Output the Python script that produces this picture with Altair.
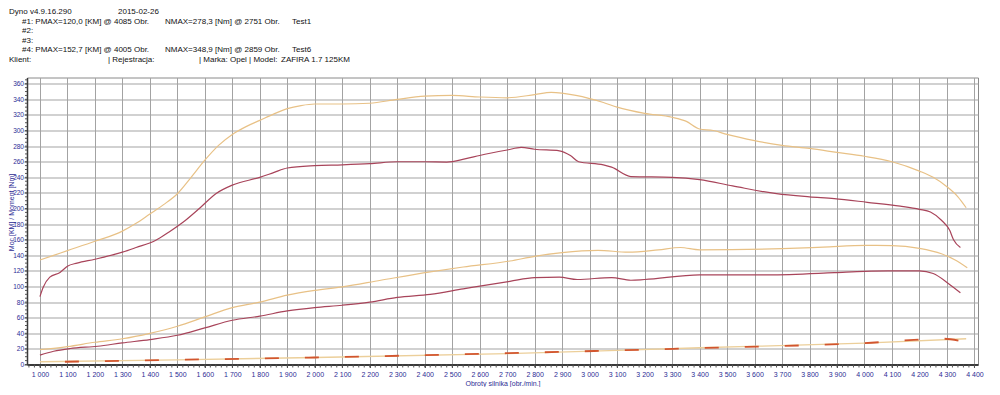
import altair as alt
import pandas as pd

# ---------------- data ----------------
t6_torque_rpm = [1000, 1050, 1100, 1200, 1300, 1350, 1400, 1450, 1500, 1550, 1600, 1650, 1700, 1750, 1800,
                 1850, 1900, 1950, 2000, 2100, 2200, 2300, 2400, 2500, 2600, 2700, 2800, 2860, 2950, 3000,
                 3050, 3100, 3200, 3300, 3350, 3400, 3450, 3500, 3600, 3700, 3800, 3900, 4000, 4100, 4200,
                 4250, 4300, 4340, 4370]
t6_torque_val = [134, 140, 146, 158, 171, 181, 193, 205, 219, 240, 262, 281, 295, 305, 313,
                 321, 328, 332, 334, 334, 335, 340, 344, 345, 343, 342, 346, 348.9, 345, 341,
                 336, 330, 322, 317, 312, 302, 300, 295, 287, 281, 277, 272, 267, 260, 248,
                 240, 228, 215, 201]

t1_torque_rpm = [1000, 1012, 1036, 1073, 1100, 1135, 1200, 1300, 1350, 1420, 1470, 1530, 1580, 1640, 1700,
                 1800, 1850, 1900, 2000, 2100, 2200, 2300, 2400, 2480, 2550, 2600, 2700, 2751, 2800, 2890,
                 2930, 2960, 3050, 3080, 3150, 3300, 3400, 3520, 3680, 3800, 3890, 4010, 4130, 4200, 4240,
                 4280, 4310, 4324, 4349]
t1_torque_val = [87, 99, 112, 118, 126, 130, 135, 144, 150, 159, 170, 185, 200, 219, 230,
                 240, 246, 252, 255, 256, 257.5, 260, 260, 259.6, 264, 268, 275, 278.3, 276, 274,
                 268, 260, 256, 253, 241, 240, 237, 229, 219, 215, 212.7, 208, 203, 199, 195.6,
                 185, 172, 160, 150]

t6_power_rpm = [1000, 1100, 1200, 1300, 1400, 1500, 1600, 1700, 1800, 1900, 2000, 2100, 2240, 2420, 2540,
                2710, 2800, 2900, 3030, 3140, 3250, 3330, 3400, 3700, 3850, 4005, 4100, 4200, 4280, 4330, 4374]
t6_power_val = [19, 23, 28.5, 33, 40, 49, 61, 73, 80, 89, 95, 99.5, 108, 118.7, 125,
                132.7, 138.7, 143.5, 146.4, 144, 147, 150, 147, 148.6, 150.5, 152.7, 152.5, 149, 142, 134, 124]

t1_power_rpm = [1000, 1050, 1110, 1210, 1300, 1400, 1500, 1600, 1700, 1800, 1900, 2000, 2100, 2200, 2300,
                2420, 2540, 2710, 2800, 2890, 2955, 3080, 3150, 3200, 3400, 3650, 3890, 4000, 4085, 4200,
                4250, 4305, 4349]
t1_power_val = [12, 17, 20.5, 23.4, 27.7, 32, 37.5, 47, 56.7, 62, 68.7, 73, 76, 80, 86,
                90, 97, 106.7, 111.5, 112, 109, 111.5, 108, 109, 115, 115, 117.8, 119.5, 120, 120,
                116.6, 104, 92]

t6_loss_rpm = [1000, 1500, 2000, 2700, 3400, 4000, 4370]
t6_loss_val = [3.5, 6, 9, 14, 21.5, 27.5, 33]

t1_loss_rpm = [1000, 1500, 2000, 2700, 3400, 4000, 4290, 4349]
t1_loss_val = [3, 6, 9, 14.5, 21, 27.5, 33, 30]

x_major = list(range(1000, 4401, 100))
x_minor = list(range(960, 4411, 20))
y_major = list(range(0, 361, 20))
y_minor = list(range(0, 366, 5))

header_lines = [
    ("Dyno v4.9.16.290", 9, 12),
    ("2015-02-26", 118, 12),
    ("#1: PMAX=120,0 [KM] @ 4085 Obr.", 22, 21.5),
    ("NMAX=278,3 [Nm] @ 2751 Obr.", 165, 21.5),
    ("Test1", 292, 21.5),
    ("#2:", 22, 31),
    ("#3:", 22, 40.5),
    ("#4: PMAX=152,7 [KM] @ 4005 Obr.", 22, 50),
    ("NMAX=348,9 [Nm] @ 2859 Obr.", 165, 50),
    ("Test6", 292, 50),
    ("Klient:", 9, 59.5),
    ("| Rejestracja:", 108, 59.5),
    ("| Marka: Opel | Model:", 199, 59.5),
    ("ZAFIRA 1.7 125KM", 281, 59.5),
]

# ---------------- layout ----------------
W, H = 951, 287
PL, PT = 19, 69.5          # plot origin on page = (8+PL, 8+PT) = (27, 77.5)
OX, OY = 8 + PL, 8 + PT
FONT = "Liberation Sans"
BLUE = "#2c2c94"
TAN = "#e8c186"
MAROON = "#a8445a"
LOSSRED = "#d2552e"

xscale = alt.Scale(domain=[953, 4413], nice=False, zero=False)
yscale = alt.Scale(domain=[0, 368], nice=False, zero=True)

xaxis = alt.Axis(
    values=x_major, grid=True, gridColor="#a3a3a3", gridWidth=1,
    labelExpr="floor(datum.value/1000) + ' ' + format(datum.value % 1000, '03d')",
    labelFont=FONT, labelFontSize=7, labelColor=BLUE, labelPadding=3,
    ticks=True, tickSize=3, tickColor="#555555",
    domain=True, domainColor="#3a3a3a", domainWidth=2,
    title="Obroty silnika [obr./min.]", titleFont=FONT, titleFontSize=7,
    titleFontWeight="normal", titleColor=BLUE, titleY=18.5, titleBaseline="middle",
)
yaxis = alt.Axis(
    values=y_major, grid=True, gridColor="#a3a3a3", gridWidth=1,
    labelFont=FONT, labelFontSize=6.5, labelColor=BLUE, labelPadding=0.5,
    ticks=True, tickSize=3, tickColor="#555555",
    domain=True, domainColor="#3a3a3a", domainWidth=1.5,
    title="Moc [KM] / Moment [Nm]", titleFont=FONT, titleFontSize=7,
    titleFontWeight="normal", titleColor=BLUE, titleX=-15.5, titleY=134.5,
    titleAngle=270, titleAlign="center", titleBaseline="middle",
)

X = alt.X("rpm:Q", scale=xscale, axis=xaxis)
Y = alt.Y("val:Q", scale=yscale, axis=yaxis)


def series(rpm, val, color, width=1.2, dash=None, offset=None):
    df = pd.DataFrame({"rpm": rpm, "val": val})
    kw = dict(color=color, strokeWidth=width, interpolate="monotone", clip=True)
    if dash is not None:
        kw["strokeDash"] = dash
    if offset is not None:
        kw["strokeDashOffset"] = offset
    return alt.Chart(df).mark_line(**kw).encode(x=X, y=Y)


minor_x = alt.Chart(pd.DataFrame({"rpm": x_minor})).mark_rule(
    color="#555555", strokeWidth=1).encode(x=X, y=alt.value(H), y2=alt.value(H + 3))
minor_y = alt.Chart(pd.DataFrame({"val": y_minor})).mark_rule(
    color="#555555", strokeWidth=1).encode(y=Y, x=alt.value(-2), x2=alt.value(0))

texts = []
for txt, px, py in header_lines:
    texts.append(
        alt.Chart(pd.DataFrame({"t": [txt]})).mark_text(
            font=FONT, fontSize=8, color="#111111", align="left", baseline="middle"
        ).encode(text="t:N", x=alt.value(px - OX), y=alt.value(py - OY))
    )

layers = [
    minor_x,
    minor_y,
    series(t6_loss_rpm, t6_loss_val, "#eccf9a", 1.3),
    series(t1_loss_rpm, t1_loss_val, LOSSRED, 1.8, dash=[14, 26], offset=15),
    series(t1_power_rpm, t1_power_val, MAROON),
    series(t6_power_rpm, t6_power_val, TAN),
    series(t1_torque_rpm, t1_torque_val, MAROON),
    series(t6_torque_rpm, t6_torque_val, TAN),
] + texts

chart = alt.layer(*layers).properties(
    width=W, height=H,
    autosize=alt.AutoSizeParams(type="none"),
    padding={"left": PL, "top": PT, "right": 14, "bottom": 22},
    background="white",
).configure_view(stroke="#8a8a8a", strokeWidth=1)

chart.save("out.html", embed_options={"renderer": "svg", "actions": False})
